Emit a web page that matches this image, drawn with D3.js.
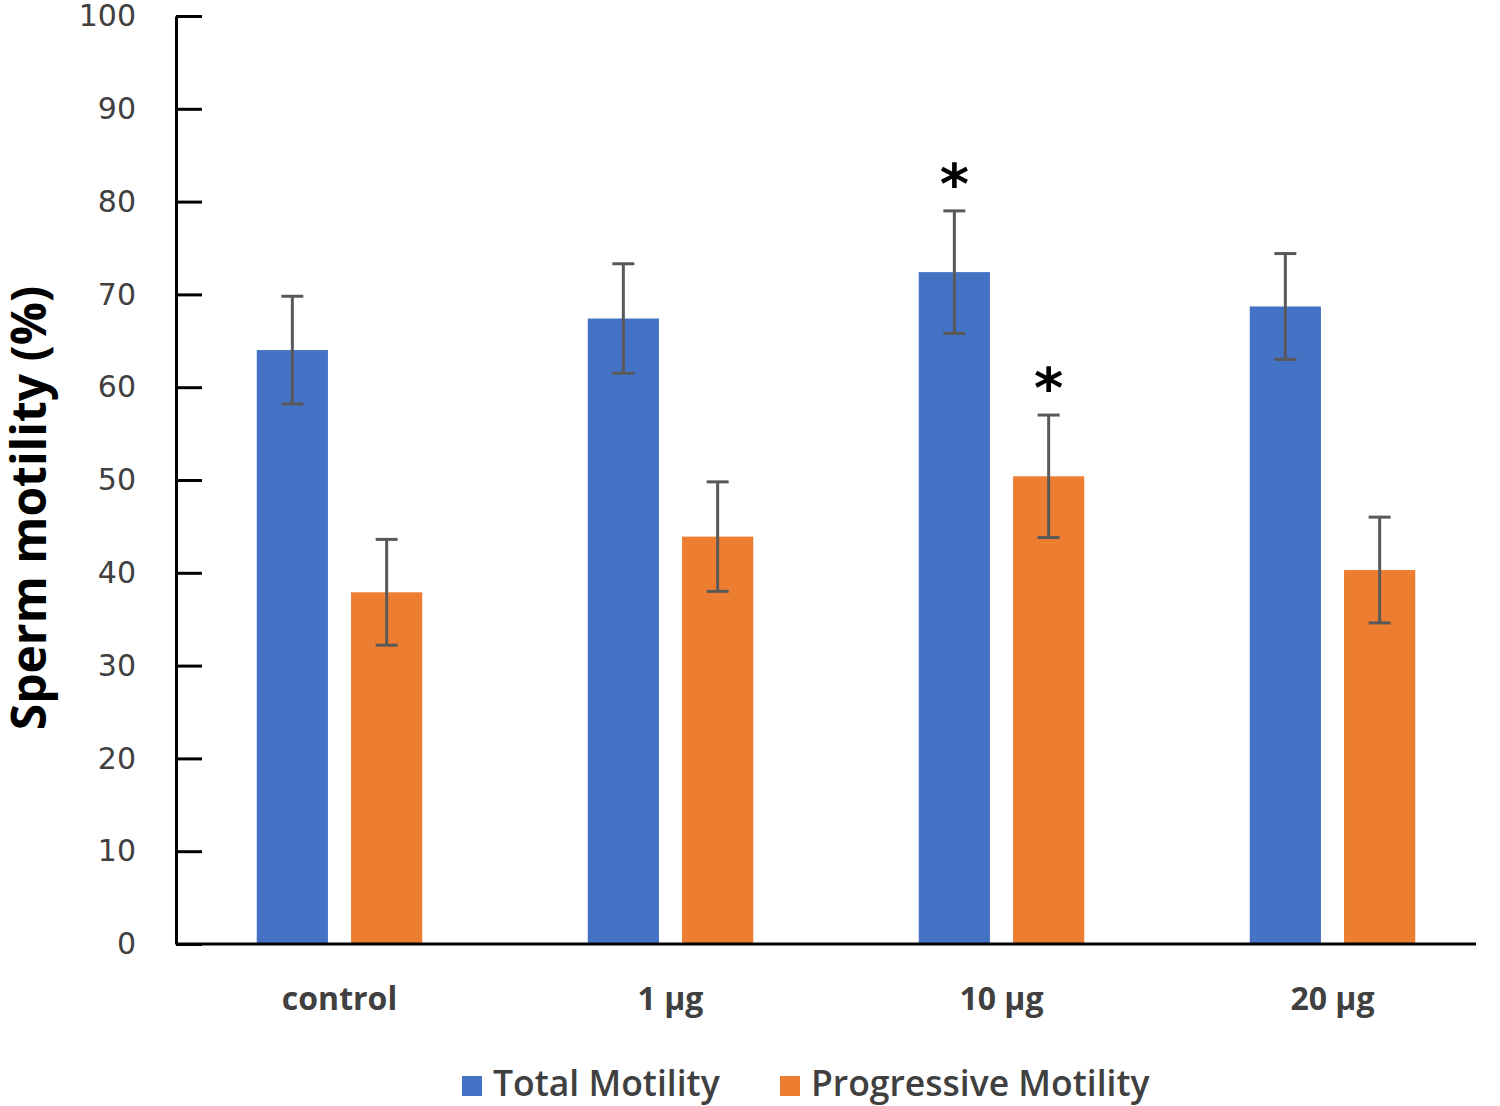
<!DOCTYPE html>
<html>
<head>
<meta charset="utf-8">
<script src="https://cdn.jsdelivr.net/npm/d3@7"></script>
<style>
  body { margin: 0; background: #fff; }
  svg { display: block; }
</style>
</head>
<body>
<svg id="chart" width="1500" height="1106"></svg>
<script>
// data
var categories = ["control", "1 \u00b5g", "10 \u00b5g", "20 \u00b5g"];
var seriesNames = ["Total Motility", "Progressive Motility"];
var totalMotility = [64.0, 67.4, 72.4, 68.7];
var totalErr = [5.8, 5.9, 6.6, 5.7];
var progressiveMotility = [37.9, 43.9, 50.4, 40.3];
var progressiveErr = [5.7, 5.9, 6.6, 5.7];
var yTicks = [0, 10, 20, 30, 40, 50, 60, 70, 80, 90, 100];
// significance marks: [category index, series index]
var stars = [[2, 0], [2, 1]];

var colors = ["#4472C4", "#ED7D31"];

var svg = d3.select("#chart");

var y = d3.scaleLinear().domain([0, 100]).range([944, 16]);

var x0 = d3.scaleBand()
    .domain(categories)
    .range([174, 1498])
    .paddingInner(0.5)
    .paddingOuter(0.25);

var x1 = d3.scaleBand()
    .domain(seriesNames)
    .range([0, x0.bandwidth()])
    .paddingInner(0.245)
    .paddingOuter(0);

var rows = categories.map(function(c, i) {
    return {
        cat: c,
        vals: [
            { s: seriesNames[0], v: totalMotility[i], e: totalErr[i], k: 0 },
            { s: seriesNames[1], v: progressiveMotility[i], e: progressiveErr[i], k: 1 }
        ]
    };
});

// y axis, ticks pointing into the plot
var yAxis = svg.append("g")
    .attr("transform", "translate(176,0)")
    .call(d3.axisLeft(y).tickValues(yTicks).tickSize(-26).tickSizeOuter(0).tickPadding(40));
yAxis.select(".domain").attr("stroke", "#000").attr("stroke-width", 3);
yAxis.selectAll(".tick line").attr("stroke", "#000").attr("stroke-width", 3);
yAxis.selectAll(".tick text")
    .attr("fill", "#404040")
    .style("font-family", "'DejaVu Sans', Verdana, sans-serif")
    .style("font-size", "30px");

// bars
var groups = svg.append("g").selectAll("g")
    .data(rows)
    .enter().append("g")
    .attr("transform", function(d) { return "translate(" + x0(d.cat) + ",0)"; });

groups.selectAll("rect")
    .data(function(d) { return d.vals; })
    .enter().append("rect")
    .attr("x", function(d) { return x1(d.s); })
    .attr("y", function(d) { return y(d.v); })
    .attr("width", x1.bandwidth())
    .attr("height", function(d) { return y(0) - y(d.v); })
    .attr("fill", function(d) { return colors[d.k]; });

// error bars
var eb = groups.selectAll("g.err")
    .data(function(d) { return d.vals; })
    .enter().append("g")
    .attr("class", "err")
    .attr("stroke", "#595959")
    .attr("stroke-width", 3);

eb.append("line")
    .attr("x1", function(d) { return x1(d.s) + x1.bandwidth() / 2; })
    .attr("x2", function(d) { return x1(d.s) + x1.bandwidth() / 2; })
    .attr("y1", function(d) { return y(d.v + d.e); })
    .attr("y2", function(d) { return y(d.v - d.e); });

[1, -1].forEach(function(sign) {
    eb.append("line")
        .attr("x1", function(d) { return x1(d.s) + x1.bandwidth() / 2 - 11; })
        .attr("x2", function(d) { return x1(d.s) + x1.bandwidth() / 2 + 11; })
        .attr("y1", function(d) { return y(d.v + sign * d.e); })
        .attr("y2", function(d) { return y(d.v + sign * d.e); });
});

// x axis line
svg.append("line")
    .attr("x1", 176).attr("x2", 1476)
    .attr("y1", y(0)).attr("y2", y(0))
    .attr("stroke", "#000").attr("stroke-width", 3);

// category labels
svg.append("g").selectAll("text")
    .data(categories)
    .enter().append("text")
    .attr("x", function(d) { return x0(d) + x0.bandwidth() / 2; })
    .attr("y", 1010)
    .attr("text-anchor", "middle")
    .attr("fill", "#404040")
    .style("font-family", "'Open Sans', sans-serif")
    .style("font-weight", "bold")
    .style("font-size", "32px")
    .text(function(d) { return d; });

// asterisks
svg.append("g").selectAll("text")
    .data(stars)
    .enter().append("text")
    .attr("x", function(d) { return x0(categories[d[0]]) + x1(seriesNames[d[1]]) + x1.bandwidth() / 2; })
    .attr("y", function(d) {
        var v = d[1] === 0 ? totalMotility[d[0]] + totalErr[d[0]] : progressiveMotility[d[0]] + progressiveErr[d[0]];
        return y(v) - 8;
    })
    .attr("text-anchor", "middle")
    .attr("fill", "#000")
    .style("font-family", "'DejaVu Sans', sans-serif")
    .style("font-weight", "bold")
    .style("font-size", "56px")
    .text("*");

// y title
svg.append("text")
    .attr("transform", "translate(46,508) rotate(-90)")
    .attr("text-anchor", "middle")
    .attr("fill", "#000")
    .style("font-family", "'Open Sans', sans-serif")
    .style("font-weight", "bold")
    .style("font-size", "48px")
    .text("Sperm motility (%)");

// legend
var legendX = [462, 780];
var legend = svg.append("g").selectAll("g")
    .data(seriesNames)
    .enter().append("g")
    .attr("transform", function(d, i) { return "translate(" + legendX[i] + ",1076)"; });
legend.append("rect")
    .attr("width", 20).attr("height", 20)
    .attr("fill", function(d, i) { return colors[i]; });
legend.append("text")
    .attr("x", 31).attr("y", 20)
    .attr("fill", "#404040")
    .style("font-family", "'Open Sans', sans-serif")
    .style("font-weight", "600")
    .style("font-size", "35.5px")
    .text(function(d) { return d; });
</script>
</body>
</html>
